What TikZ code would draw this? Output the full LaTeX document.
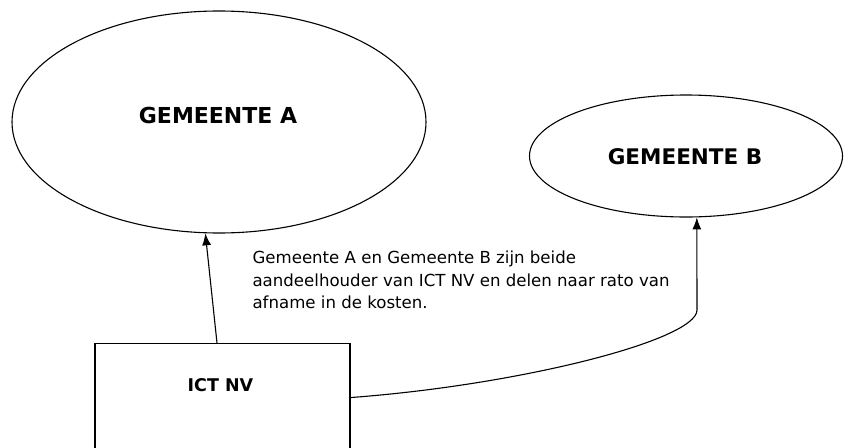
\documentclass[tikz,border=0pt]{standalone}
\usepackage{fontspec}
\setmainfont{DejaVu Sans}
\newfontfamily\bodyfont{DejaVu Sans}
\usetikzlibrary{shapes.geometric,arrows.meta}

\def\lw{1.1pt}

\begin{document}
\begin{tikzpicture}[x=1pt, y=-1pt, line width=\lw,
	gem/.style={ellipse, draw, inner sep=0, font=\bfseries\fontsize{22}{26}\selectfont},
	box/.style={rectangle, draw, inner sep=0, minimum width=255, minimum height=108, anchor=north},
	note/.style={anchor=west, align=left, inner sep=0, font=\bodyfont\fontsize{16.6}{22.5}\selectfont},
	arr/.style={-{Latex[length=12pt,width=9pt]}}]
	
	\useasboundingbox (0,0) rectangle (848,447);
	\clip (0,0) rectangle (848,447);
	
	\node (gemA) at (219,122) [gem, minimum width=414, minimum height=222] {};
	\node (gemB) at (686,156) [gem, minimum width=313, minimum height=122] {};
	\node (ict) at (222.5,343) [box] {};
	
	\node (labA) at (218,115) [font=\bfseries\fontsize{22}{26}\selectfont] {GEMEENTE A};
	\node (labB) at (685,157) [font=\bfseries\fontsize{21.5}{26}\selectfont] {GEMEENTE B};
	\node (labICT) at (220.5,385) [font=\bfseries\fontsize{17.5}{21}\selectfont] {ICT NV};
	
	\node (uitleg) at (252,280) [note] {Gemeente A en Gemeente B zijn beide\\aandeelhouder van ICT NV en delen naar rato van\\afname in de kosten.};
	
	\draw[arr] ([xshift=-5.5pt]ict.north) to (gemA.263);
	\draw[arr] (ict.east) .. controls (520,385) and (697,340) .. (697,310) -- (gemB.280);
	
\end{tikzpicture}
\end{document}
